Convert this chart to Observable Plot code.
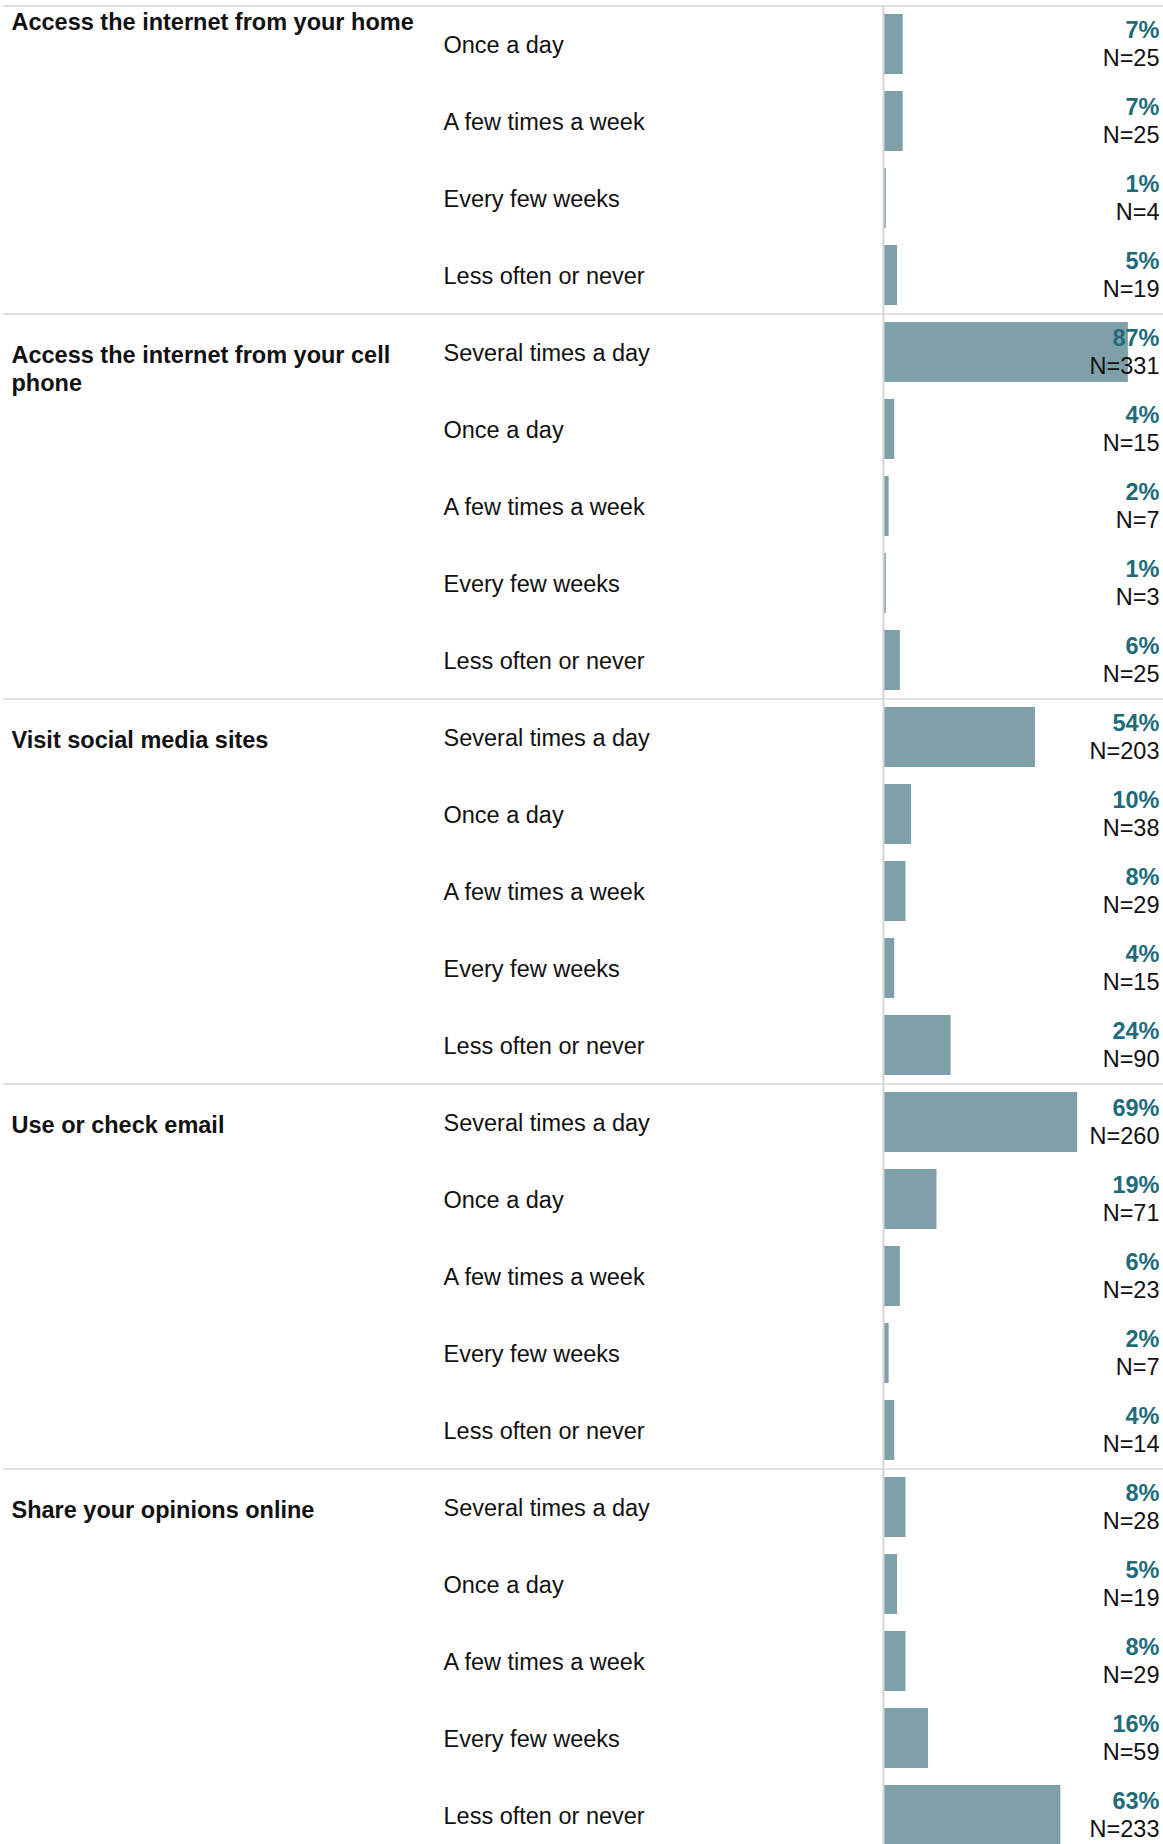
<!DOCTYPE html>
<html>
<head>
<meta charset="utf-8">
<script src="https://cdn.jsdelivr.net/npm/d3@7"></script>
<script src="https://cdn.jsdelivr.net/npm/@observablehq/plot@0.6"></script>
<style>
  html, body { margin: 0; padding: 0; background: #ffffff; }
  #chart svg { display: block; }
</style>
</head>
<body>
<div id="chart"></div>
<script>
// ---- Data ----
const groupTitles = [
  "Access the internet from your home",
  "Access the internet from your cell\nphone",
  "Visit social media sites",
  "Use or check email",
  "Share your opinions online"
];
const frequencyLabels = [
  "Several times a day",
  "Once a day",
  "A few times a week",
  "Every few weeks",
  "Less often or never"
];
// frequencies shown for each group (the first group starts at "Once a day")
const groupFrequencies = [
  ["Once a day", "A few times a week", "Every few weeks", "Less often or never"],
  frequencyLabels,
  frequencyLabels,
  frequencyLabels,
  frequencyLabels
];
const groupPercents = [
  [7, 7, 1, 5],
  [87, 4, 2, 1, 6],
  [54, 10, 8, 4, 24],
  [69, 19, 6, 2, 4],
  [8, 5, 8, 16, 63]
];
const groupCounts = [
  [25, 25, 4, 19],
  [331, 15, 7, 3, 25],
  [203, 38, 29, 15, 90],
  [260, 71, 23, 7, 14],
  [28, 19, 29, 59, 233]
];

// ---- Build tables for Plot ----
const rows = [];
const titles = [];
groupTitles.forEach((title, g) => {
  groupFrequencies[g].forEach((freq, i) => {
    const key = `${g}|${freq}`;
    if (i === 0) titles.push({key, title, group: g});
    rows.push({key, group: g, freq, pct: groupPercents[g][i], n: groupCounts[g][i]});
  });
});

const ROW = 77;
const FS = 23.5;
const font = "'Liberation Sans', Arial, Helvetica, sans-serif";
const gridColor = "#d6d6d6";

const chart = Plot.plot({
  width: 1163,
  height: 1844,
  marginTop: 6,
  marginBottom: 0,
  marginLeft: 3,
  marginRight: 0,
  style: {fontFamily: font, background: "#ffffff", overflow: "visible"},
  x: {domain: [0, 100], range: [883, 1164.5], axis: null},
  y: {
    type: "band",
    domain: rows.map(d => d.key),
    range: [6, 6 + rows.length * ROW],
    paddingInner: 0.22,
    paddingOuter: 0.11,
    axis: null
  },
  marks: [
    // group separators (top edge of each group)
    Plot.ruleY(titles, {y: "key", dy: -ROW / 2, stroke: gridColor, strokeWidth: 1.5}),
    // bars
    Plot.barX(rows, {x: "pct", y: "key", fill: "#7fa0a8"}),
    // vertical baseline
    Plot.ruleX([0], {stroke: gridColor, strokeWidth: 2}),
    // frequency labels
    Plot.text(rows, {
      y: "key", text: "freq", frameAnchor: "left", dx: 440, dy: 1,
      textAnchor: "start", fontSize: FS, fill: "#111111"
    }),
    // group titles (first group pinned to the top of the view)
    Plot.text(titles.filter(d => d.group === 0), {
      y: "key", text: "title", frameAnchor: "left", dx: 8, dy: -35,
      lineAnchor: "top", textAnchor: "start", fontSize: FS, fontWeight: "bold",
      lineHeight: 1.2, fill: "#111111"
    }),
    Plot.text(titles.filter(d => d.group !== 0), {
      y: "key", text: "title", frameAnchor: "left", dx: 8, dy: -9.5,
      lineAnchor: "top", textAnchor: "start", fontSize: FS, fontWeight: "bold",
      lineHeight: 1.2, fill: "#111111"
    }),
    // percent labels
    Plot.text(rows, {
      y: "key", text: d => `${d.pct}%`, frameAnchor: "right", dx: -4, dy: -14.5,
      textAnchor: "end", fontSize: FS, fontWeight: "bold", fill: "#1e6b7a"
    }),
    // N labels
    Plot.text(rows, {
      y: "key", text: d => `N=${d.n}`, frameAnchor: "right", dx: -4, dy: 14,
      textAnchor: "end", fontSize: FS, fill: "#111111"
    })
  ]
});

document.getElementById("chart").appendChild(chart);
</script>
</body>
</html>
